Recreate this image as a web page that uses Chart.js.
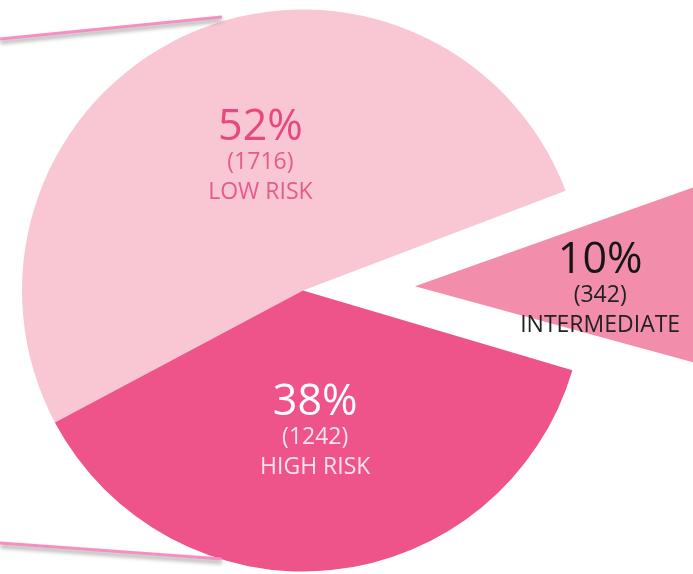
<!DOCTYPE html>
<html>
<head>
<meta charset="utf-8">
<script src="https://cdn.jsdelivr.net/npm/chart.js@4.4.1/dist/chart.umd.min.js"></script>
<style>
    html, body { margin: 0; padding: 0; background: #fff; }
    #wrap { width: 693px; height: 574px; position: relative; }
</style>
</head>
<body>
<div id="wrap"><canvas id="risk-chart"></canvas></div>
<script>
const risk_labels = ['LOW RISK', 'INTERMEDIATE', 'HIGH RISK']
const risk_counts = [1716, 342, 1242]
const risk_colors = ['#f9c7d3', '#f28eab', '#ee5389']

// text look per slice: colour of the big %, colour of the small lines, where to sit
const label_style = [
    { big: '#e6487f', small: '#e35b8c', dist: 0.48, turn: 6 },
    { big: '#161616', small: '#222222', dist: 0.66, turn: 5 },
    { big: '#ffffff', small: '#fde3ec', dist: 0.525, turn: 1 },
]

const total = risk_counts.reduce((a, b) => a + b, 0)
const risk_percents = risk_counts.map(v => Math.round(v / total * 100) + '%')

const slice_labels = {
    id: 'slice_labels',
    afterDatasetsDraw(chart) {
        const ctx = chart.ctx
        const arcs = chart.getDatasetMeta(0).data
        ctx.save()
        ctx.textAlign = 'center'
        ctx.textBaseline = 'middle'
        arcs.forEach((arc, i) => {
            const st = label_style[i]
            const mid = (arc.startAngle + arc.endAngle) / 2
            const shift = (arc.options.offset || 0) / 4
            const ang = mid + st.turn * Math.PI / 180
            const r = arc.outerRadius * st.dist
            const x = arc.x + Math.cos(mid) * shift + Math.cos(ang) * r
            const y = arc.y + Math.sin(mid) * shift + Math.sin(ang) * r

            ctx.fillStyle = st.big
            ctx.font = '43px "Open Sans"'
            ctx.fillText(risk_percents[i], x, y - 35)

            ctx.fillStyle = st.small
            ctx.font = '23px "Open Sans"'
            ctx.fillText('(' + risk_counts[i] + ')', x, y)
            ctx.fillText(risk_labels[i], x, y + 30)
        })
        ctx.restore()
    }
}

// the two pink leader lines coming in from the left
const callout_lines = {
    id: 'callout_lines',
    afterDraw(chart) {
        const ctx = chart.ctx
        ctx.save()
        ctx.lineWidth = 3
        ctx.strokeStyle = '#f58fc1'
        ctx.shadowColor = 'rgba(0,0,0,0.4)'
        ctx.shadowBlur = 4
        ctx.shadowOffsetY = 3
        ctx.beginPath()
        ctx.moveTo(0, 39)
        ctx.lineTo(222, 17)
        ctx.moveTo(0, 543)
        ctx.lineTo(222, 559)
        ctx.stroke()
        ctx.restore()
    }
}

new Chart(document.getElementById('risk-chart'), {
    type: 'pie',
    data: {
        labels: risk_labels,
        datasets: [{
            data: risk_counts,
            backgroundColor: risk_colors,
            borderWidth: 0,
            offset: [0, 448, 0],
        }]
    },
    options: {
        responsive: true,
        maintainAspectRatio: false,
        animation: false,
        radius: 281,
        rotation: 242,
        layout: { padding: { left: 0, right: 87, top: 7, bottom: 0 } },
        plugins: {
            legend: { display: false },
            tooltip: { enabled: false }
        }
    },
    plugins: [slice_labels, callout_lines]
})
</script>
</body>
</html>
